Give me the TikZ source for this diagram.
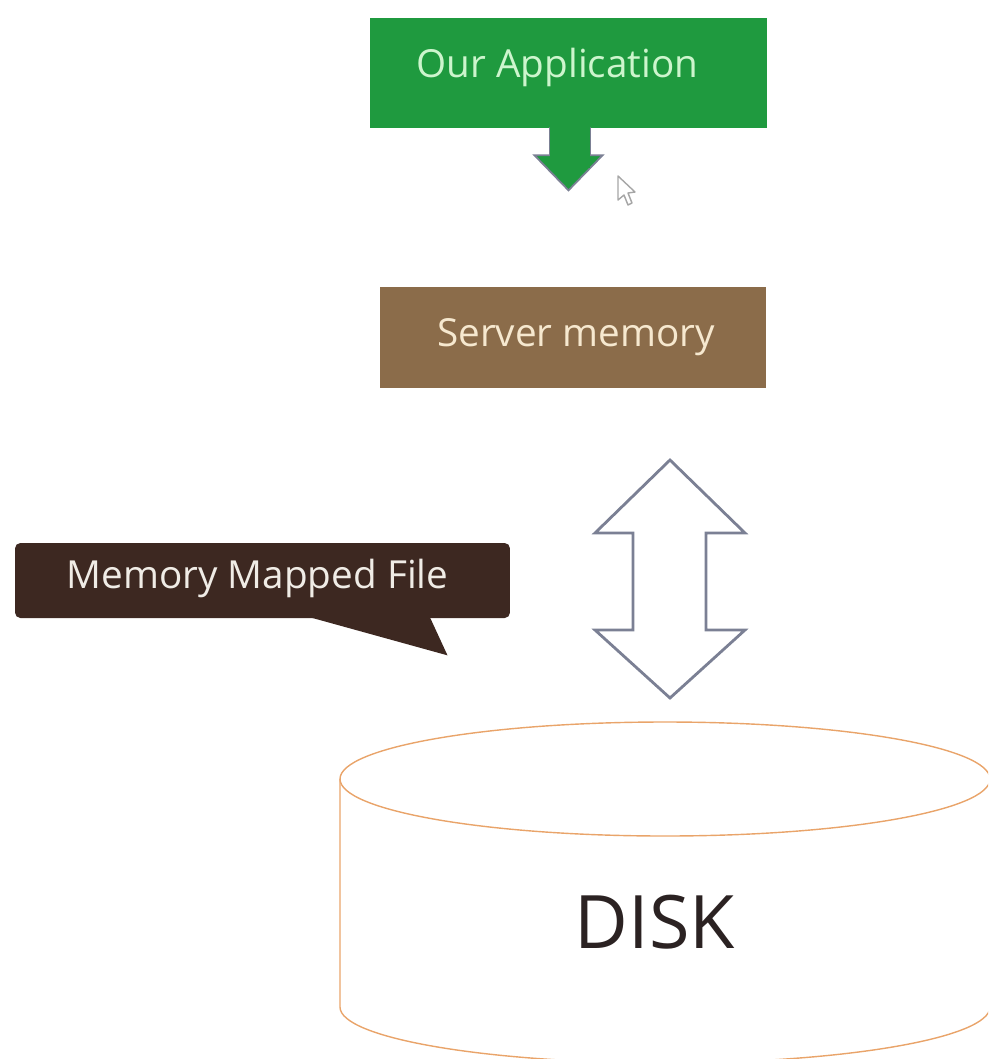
\documentclass[tikz,border=0pt]{standalone}
\usepackage{fontspec}
\setmainfont{Open Sans}
\usetikzlibrary{calc}

\definecolor{appgreen}{RGB}{31,154,63}
\definecolor{apptext}{RGB}{205,245,205}
\definecolor{srvbrown}{RGB}{139,108,74}
\definecolor{srvtext}{RGB}{246,232,207}
\definecolor{bubbrown}{RGB}{61,40,33}
\definecolor{bubtext}{RGB}{240,236,230}
\definecolor{arrowgray}{RGB}{123,128,148}
\definecolor{diskline}{RGB}{233,164,106}
\definecolor{disktext}{RGB}{43,34,34}

\tikzset{
  appbox/.style={fill=appgreen, minimum width=7.94cm, minimum height=2.2cm, inner sep=0pt},
  srvbox/.style={fill=srvbrown, minimum width=7.72cm, minimum height=2.02cm, inner sep=0pt},
  bubble/.style={fill=bubbrown, rounded corners=3pt, minimum width=9.9cm,
    minimum height=1.5cm, inner sep=0pt},
  boxtext/.style={inner sep=0pt, font=\fontsize{22}{26}\selectfont},
  outlinearrow/.style={draw=arrowgray, line width=1.6pt, fill=white, line join=miter},
  diskedge/.style={draw=diskline, line width=0.8pt},
  disklabel/.style={text=disktext, font=\fontsize{42}{48}\selectfont}
}

\begin{document}
\begin{tikzpicture}[x=0.02cm, y=-0.02cm]
  \useasboundingbox (0,0) rectangle (988,1059);
  \clip (0,0) rectangle (988,1059);

  % application box and its downward arrow
  \node[appbox] (app) at (568.5,73) {};
  \node[boxtext, text=apptext] (apptitle) at ($(app.center)+(-11,-6)$) {Our Application};
  \fill[appgreen, draw=arrowgray, line width=1pt, line join=miter]
    ($(app.south)+(-18.5,0)$) -- ($(app.south)+(-18.5,27)$) -- ($(app.south)+(-34,27)$)
    -- ($(app.south)+(0,62)$) -- ($(app.south)+(34,27)$) -- ($(app.south)+(21.5,27)$)
    -- ($(app.south)+(21.5,0)$) -- cycle;
  \fill[appgreen] ($(app.south)+(-18.5,-1)$) rectangle ($(app.south)+(21.5,40)$);

  % mouse pointer
  \draw[gray!70, fill=white, line width=0.8pt, line join=round]
    (618,176) -- (618,200) -- (624,195) -- (628,205) -- (632,203) -- (628,193) -- (635,192) -- cycle;

  % server memory box
  \node[srvbox] (srv) at (573,337.5) {};
  \node[boxtext, text=srvtext] (srvtitle) at ($(srv.center)+(3,0)$) {Server memory};

  % two-way arrow between memory and disk
  \coordinate (dtop) at (670,460);
  \coordinate (dbot) at (670,698);
  \draw[outlinearrow]
    (dtop) -- ($(dtop)+(75,73)$) -- ($(dtop)+(36,73)$) -- ($(dbot)+(36,-68)$)
    -- ($(dbot)+(75,-68)$) -- (dbot) -- ($(dbot)+(-75,-68)$) -- ($(dbot)+(-37,-68)$)
    -- ($(dtop)+(-37,73)$) -- ($(dtop)+(-75,73)$) -- cycle;

  % speech bubble with its tail
  \node[bubble] (mmf) at (262.5,580.5) {};
  \fill[bubbrown] ($(mmf.south)+(44,-2)$) -- ($(mmf.south)+(185,37)$)
    -- ($(mmf.south)+(167,-2)$) -- cycle;
  \node[boxtext, text=bubtext] (mmftitle) at ($(mmf.center)+(-5,-2)$) {Memory Mapped File};

  % disk cylinder
  \draw[diskedge] (665,779) ellipse [x radius=325, y radius=57];
  \draw[diskedge] (340,779) -- (340,1007) arc[start angle=180, end angle=0, x radius=325, y radius=56]
    -- (990,779);
  \node[disklabel] (disk) at (655,922) {DISK};
\end{tikzpicture}
\end{document}
